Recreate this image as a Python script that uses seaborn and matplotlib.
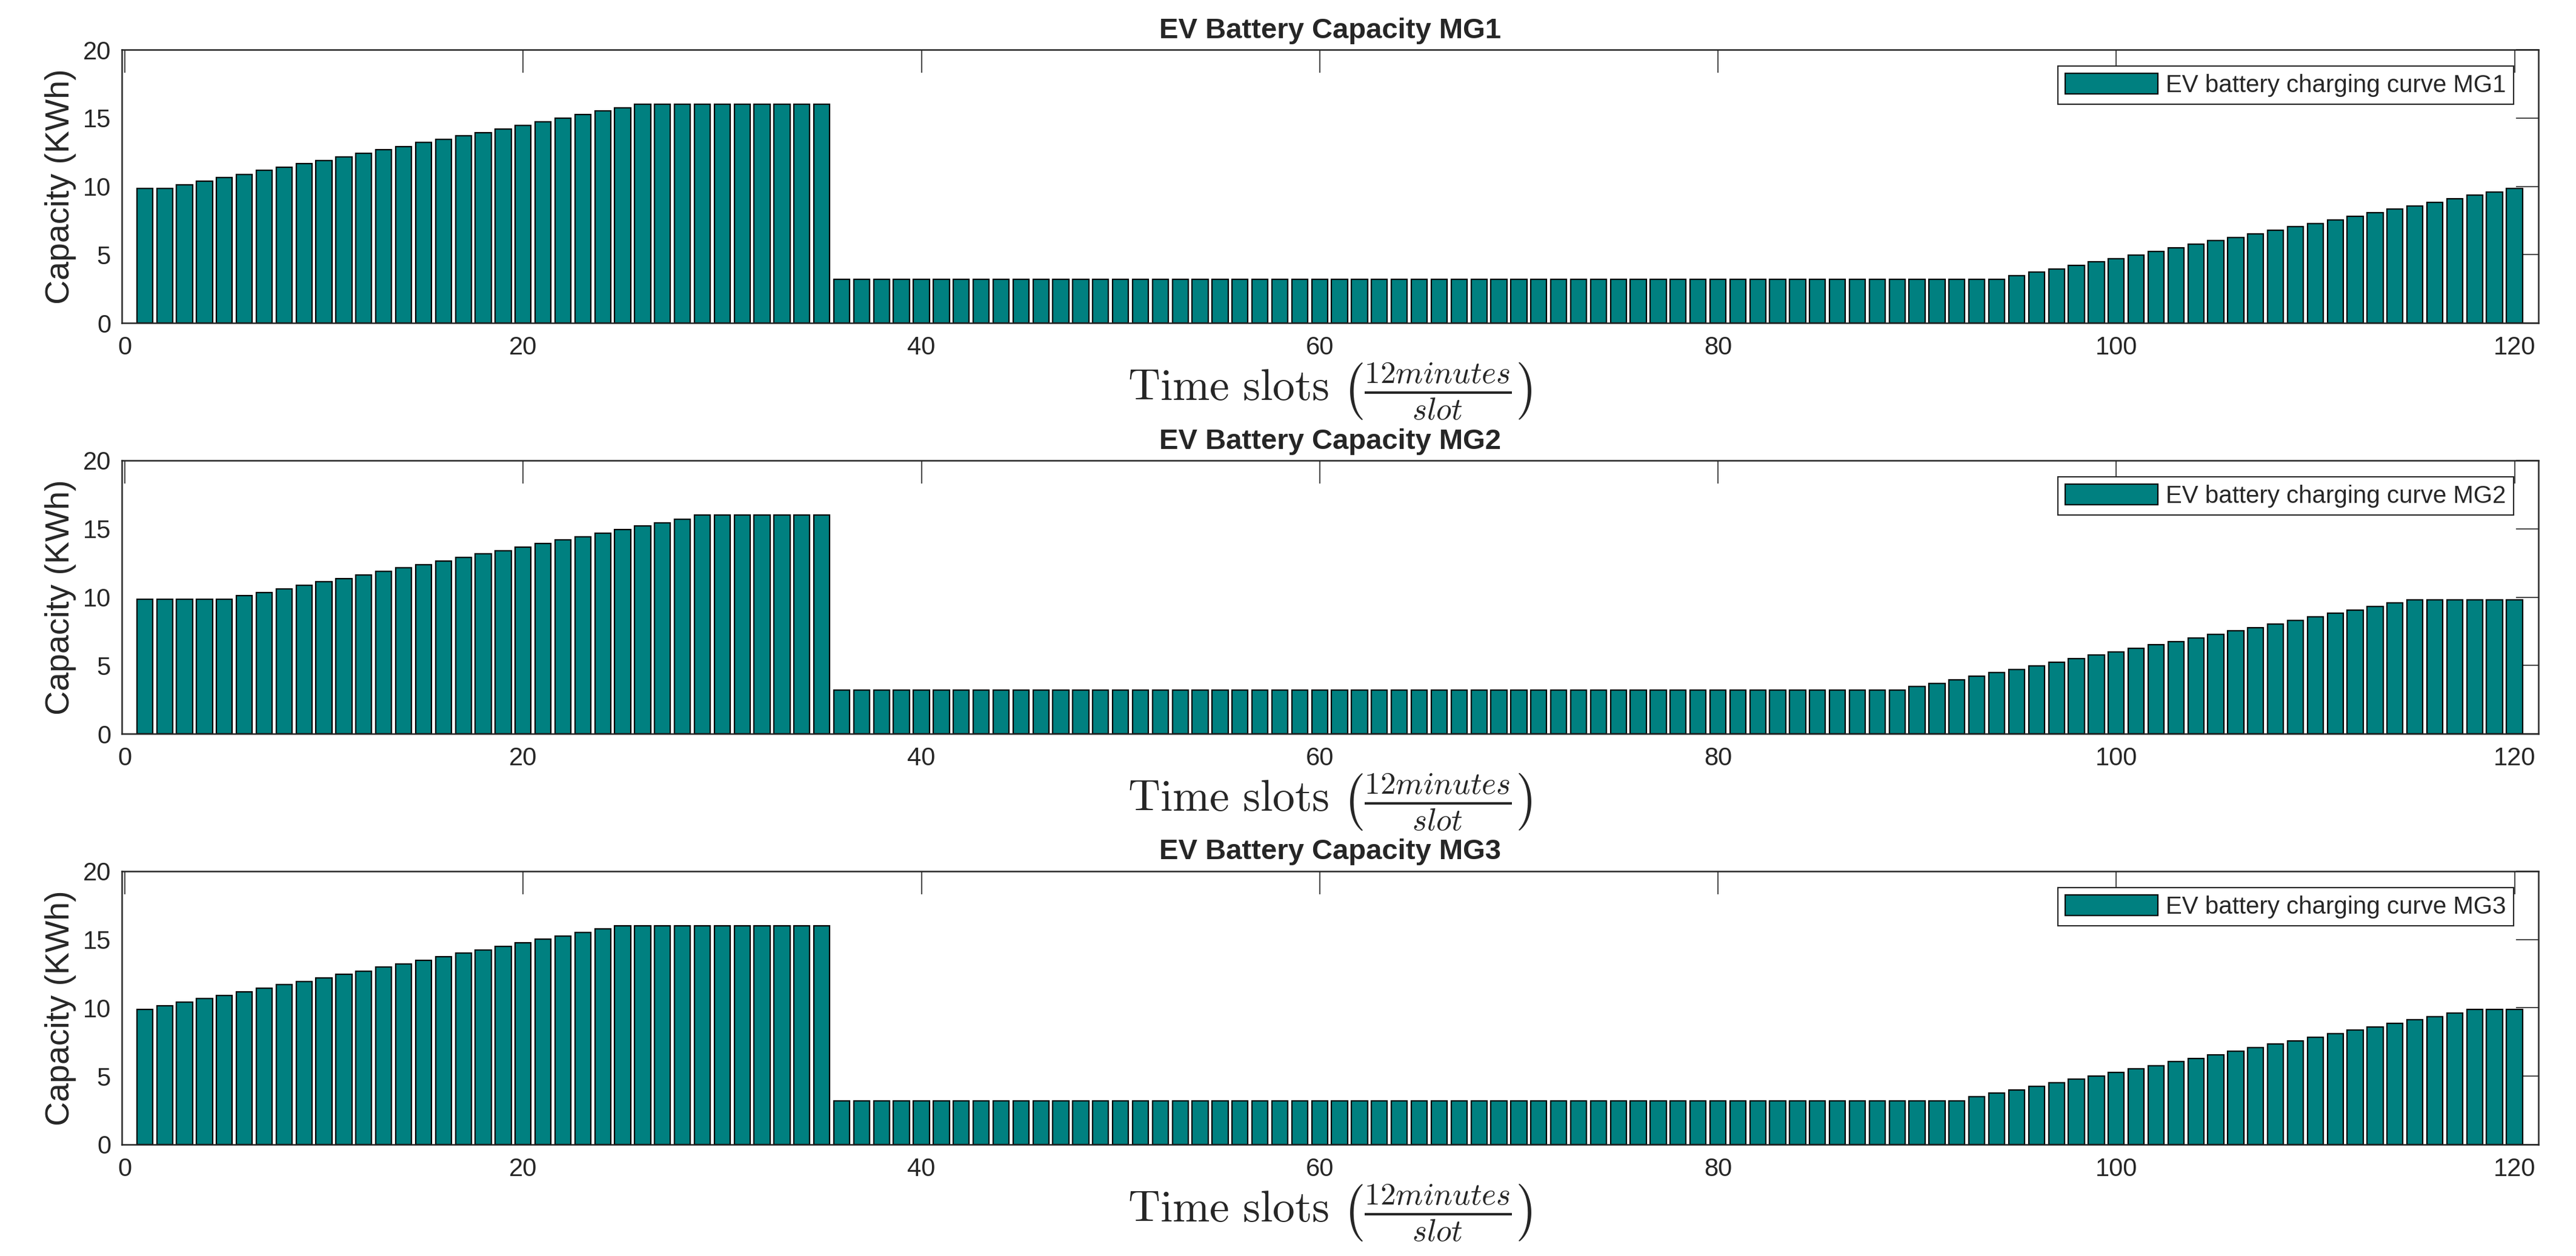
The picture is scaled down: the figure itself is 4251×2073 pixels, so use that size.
import numpy as np
import pandas as pd
import seaborn as sns
import matplotlib
matplotlib.use("Agg")
import matplotlib.pyplot as plt

sns.set_theme(style="white")
plt.rcParams['font.family'] = ['Liberation Sans', 'DejaVu Sans']
plt.rcParams['mathtext.fontset'] = 'cm'

# time slots 1..120 (12 minutes each)
slots = list(range(1, 121))

mg1 = ([9.84, 9.84, 10.1, 10.37, 10.63, 10.87, 11.17, 11.4, 11.66, 11.9, 12.15, 12.41,
        12.69, 12.92, 13.2, 13.44, 13.7, 13.95, 14.19, 14.47, 14.72, 14.98, 15.24, 15.51, 15.75]
       + [16.0] * 10 + [3.2] * 59
       + [3.46, 3.72, 3.97, 4.21, 4.47, 4.72, 4.98, 5.24, 5.51, 5.77, 6.03, 6.26, 6.52,
          6.78, 7.04, 7.29, 7.55, 7.81, 8.06, 8.32, 8.58, 8.83, 9.09, 9.35, 9.6, 9.86])

mg2 = ([9.84] * 5
       + [10.1, 10.35, 10.6, 10.86, 11.12, 11.37, 11.63, 11.88, 12.14, 12.39, 12.65, 12.9,
          13.16, 13.41, 13.67, 13.92, 14.18, 14.43, 14.69, 14.94, 15.2, 15.45, 15.71]
       + [16.0] * 7 + [3.2] * 54
       + [3.44, 3.69, 3.95, 4.21, 4.46, 4.72, 4.98, 5.23, 5.49, 5.75, 5.98, 6.24, 6.5,
          6.75, 7.01, 7.27, 7.52, 7.78, 8.04, 8.31, 8.55, 8.81, 9.06, 9.32, 9.58]
       + [9.81] * 6)

mg3 = ([9.89, 10.15, 10.4, 10.67, 10.91, 11.18, 11.44, 11.69, 11.94, 12.2, 12.45, 12.7,
        12.97, 13.21, 13.48, 13.73, 13.99, 14.24, 14.51, 14.75, 15.02, 15.27, 15.53, 15.78]
       + [16.0] * 11 + [3.2] * 57
       + [3.48, 3.75, 3.99, 4.26, 4.51, 4.77, 5.02, 5.29, 5.53, 5.78, 6.05, 6.29, 6.56,
          6.83, 7.07, 7.34, 7.59, 7.85, 8.1, 8.37, 8.61, 8.88, 9.13, 9.37, 9.64]
       + [9.89] * 3)

series = {"MG1": mg1, "MG2": mg2, "MG3": mg3}

teal = "#008080"
axc = "#262626"

fig, axes = plt.subplots(3, 1, figsize=(42.51, 20.73), dpi=100)
fig.subplots_adjust(left=0.0473, right=0.9854, top=0.9604, bottom=0.0888, hspace=0.503)

for ax, (name, vals) in zip(axes, series.items()):
    df = pd.DataFrame({"slot": slots, "cap": vals})
    sns.barplot(data=df, x="slot", y="cap", native_scale=True, color=teal,
                saturation=1, edgecolor="black", linewidth=1.6, width=0.8, ax=ax)
    ax.set_xlim(-0.15, 121.2)
    ax.set_ylim(0, 20)
    ax.set_xticks([0, 20, 40, 60, 80, 100, 120])
    ax.set_yticks([0, 5, 10, 15, 20])
    ax.tick_params(axis="both", direction="in", top=True, right=True, length=27,
                   width=1.2, color=axc, labelsize=30, labelcolor="#262626")
    ax.tick_params(axis="x", pad=15)
    ax.tick_params(axis="y", pad=13)
    for s in ax.spines.values():
        s.set_visible(True)
        s.set_color(axc)
        s.set_linewidth(1.8)
    ax.set_title("EV Battery Capacity " + name, fontsize=34, fontweight="bold", pad=14)
    ax.set_ylabel("Capacity (KWh)", fontsize=40, labelpad=8)
    ax.set_xlabel(r"$\mathrm{Time\ slots}\ \left(\frac{12minutes}{slot}\right)$",
                  fontsize=53, labelpad=2)
    ax.legend(handles=[ax.patches[0]], labels=["EV battery charging curve " + name],
              loc="upper right", bbox_to_anchor=(0.9897, 0.94), borderaxespad=0,
              fontsize=29, frameon=True, fancybox=False, edgecolor=axc,
              framealpha=1, handlelength=3.8, handleheight=0.93,
              handletextpad=0.33, borderpad=0.3)
    ax.get_legend().get_frame().set_linewidth(1.5)

fig.savefig("out.png", dpi=100)
